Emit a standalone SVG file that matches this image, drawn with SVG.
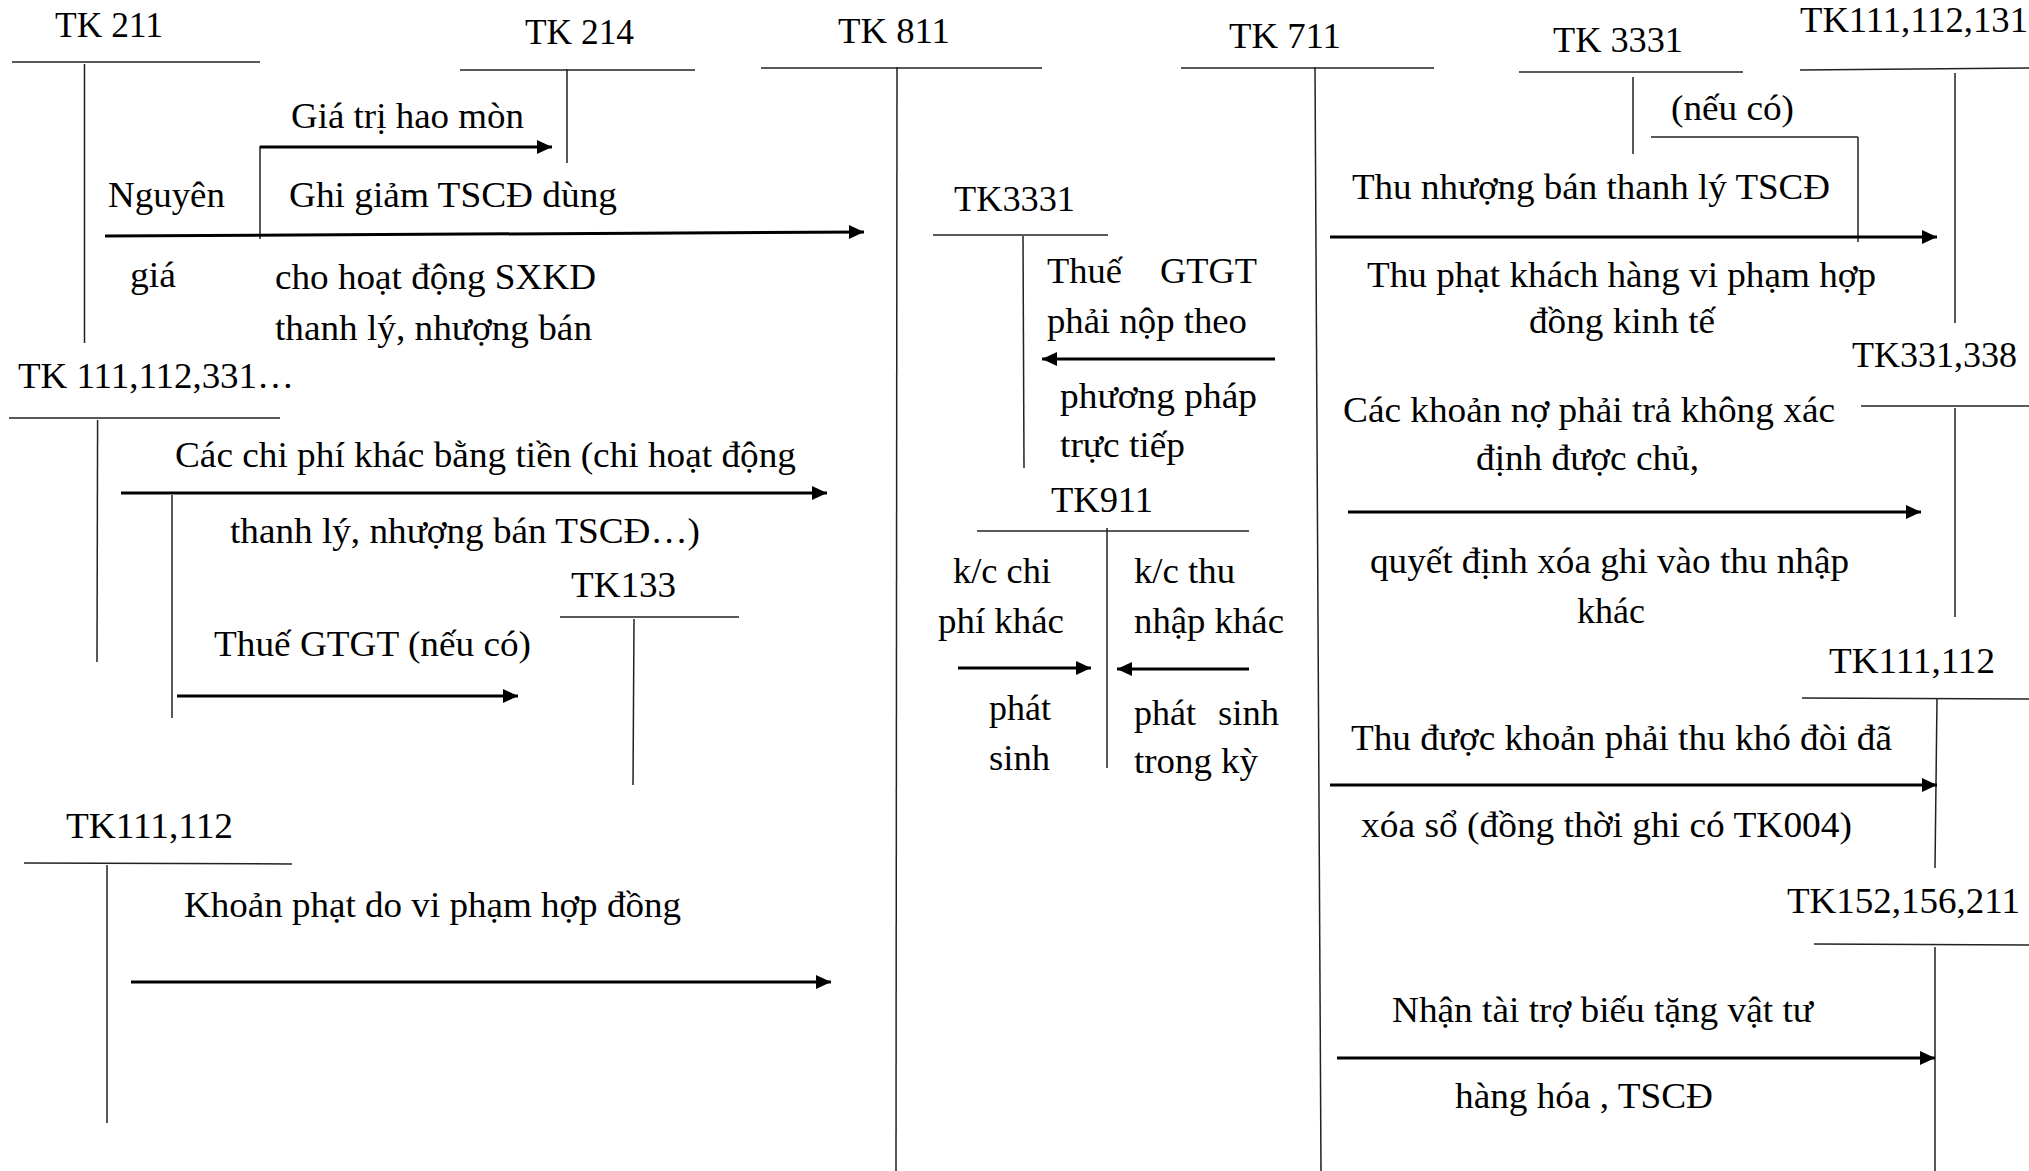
<svg xmlns="http://www.w3.org/2000/svg" width="2029" height="1171" viewBox="0 0 2029 1171">
  <defs>
    <marker id="head" markerUnits="userSpaceOnUse" markerWidth="16" markerHeight="15" refX="15" refY="7" orient="auto">
      <path d="M0,0 L15,7 L0,14 z" fill="#000"/>
    </marker>
    <style>
      text { font-family: "Liberation Serif", "Times New Roman", serif; font-size: 36px; fill: #000; }
      .t { stroke: #222; stroke-width: 1.5; fill: none; }
      .a { stroke: #000; stroke-width: 3; fill: none; marker-end: url(#head); }
    </style>
  </defs>
  <rect width="2029" height="1171" fill="#fff"/>

  <!-- T-accounts -->
  <g id="tk211">
    <line class="t" x1="12" y1="62" x2="260" y2="62"/>
    <line class="t" x1="84.5" y1="64" x2="84.5" y2="343"/>
    <text x="55" y="37" textLength="108" lengthAdjust="spacingAndGlyphs">TK 211</text>
  </g>
  <g id="tk214">
    <line class="t" x1="460" y1="70" x2="695" y2="70"/>
    <line class="t" x1="567" y1="69" x2="567" y2="163"/>
    <text x="525" y="44" textLength="109" lengthAdjust="spacingAndGlyphs">TK 214</text>
  </g>
  <g id="tk811">
    <line class="t" x1="761" y1="68" x2="1042" y2="68"/>
    <line class="t" x1="897" y1="67" x2="896" y2="1171"/>
    <text x="838" y="43" textLength="112" lengthAdjust="spacingAndGlyphs">TK 811</text>
  </g>
  <g id="tk711">
    <line class="t" x1="1181" y1="68" x2="1434" y2="68"/>
    <line class="t" x1="1315" y1="67" x2="1321" y2="1171"/>
    <text x="1229" y="48" textLength="112" lengthAdjust="spacingAndGlyphs">TK 711</text>
  </g>
  <g id="tk3331-out">
    <line class="t" x1="1519" y1="72" x2="1743" y2="72"/>
    <line class="t" x1="1633" y1="77" x2="1633" y2="154"/>
    <text x="1553" y="52" textLength="130" lengthAdjust="spacingAndGlyphs">TK 3331</text>
  </g>
  <g id="tk111-112-131">
    <line class="t" x1="1800" y1="70" x2="2029" y2="68"/>
    <line class="t" x1="1955" y1="73" x2="1955" y2="323"/>
    <text x="1800" y="32" textLength="228" lengthAdjust="spacingAndGlyphs">TK111,112,131</text>
  </g>
  <g id="tk111-112-331">
    <line class="t" x1="9" y1="418" x2="280" y2="418"/>
    <line class="t" x1="97.6" y1="420" x2="97" y2="662"/>
    <text x="18" y="388" textLength="276" lengthAdjust="spacingAndGlyphs">TK 111,112,331…</text>
  </g>
  <g id="tk3331-in">
    <line class="t" x1="933" y1="235" x2="1108" y2="235"/>
    <line class="t" x1="1023" y1="236" x2="1024" y2="468"/>
    <text x="954" y="211" textLength="121" lengthAdjust="spacingAndGlyphs">TK3331</text>
  </g>
  <g id="tk911">
    <line class="t" x1="977" y1="531" x2="1249" y2="531"/>
    <line class="t" x1="1107" y1="528" x2="1107" y2="768"/>
    <text x="1051" y="512" textLength="102" lengthAdjust="spacingAndGlyphs">TK911</text>
  </g>
  <g id="tk133">
    <line class="t" x1="560" y1="617" x2="739" y2="617"/>
    <line class="t" x1="634" y1="619" x2="633" y2="785"/>
    <text x="571" y="597" textLength="105" lengthAdjust="spacingAndGlyphs">TK133</text>
  </g>
  <g id="tk331-338">
    <line class="t" x1="1861" y1="406" x2="2029" y2="406"/>
    <line class="t" x1="1955" y1="408" x2="1955" y2="617"/>
    <text x="1852" y="367" textLength="165" lengthAdjust="spacingAndGlyphs">TK331,338</text>
  </g>
  <g id="tk111-112-right">
    <line class="t" x1="1802" y1="698" x2="2029" y2="699"/>
    <line class="t" x1="1937" y1="699" x2="1935" y2="868"/>
    <text x="1829" y="673" textLength="166" lengthAdjust="spacingAndGlyphs">TK111,112</text>
  </g>
  <g id="tk111-112-left">
    <line class="t" x1="24" y1="863" x2="292" y2="864"/>
    <line class="t" x1="107" y1="865" x2="107" y2="1123"/>
    <text x="66" y="838" textLength="167" lengthAdjust="spacingAndGlyphs">TK111,112</text>
  </g>
  <g id="tk152-156-211">
    <line class="t" x1="1814" y1="944" x2="2029" y2="945"/>
    <line class="t" x1="1935" y1="947" x2="1935" y2="1171"/>
    <text x="1787" y="913" textLength="233" lengthAdjust="spacingAndGlyphs">TK152,156,211</text>
  </g>

  <!-- connectors -->
  <g id="connectors">
    <line class="t" x1="260" y1="239" x2="260" y2="146"/>
    <line class="a" x1="260" y1="147" x2="552" y2="147"/>
    <line class="a" x1="105" y1="236" x2="864" y2="232"/>
    <line class="a" x1="1275" y1="359" x2="1042" y2="359"/>
    <line class="t" x1="1651" y1="137" x2="1858" y2="137"/>
    <line class="t" x1="1858" y1="137" x2="1858" y2="242"/>
    <line class="a" x1="1330" y1="237" x2="1937" y2="237"/>
    <line class="a" x1="121" y1="493" x2="827" y2="493"/>
    <line class="t" x1="172" y1="495" x2="172" y2="718"/>
    <line class="a" x1="177" y1="696" x2="518" y2="696"/>
    <line class="a" x1="958" y1="668" x2="1091" y2="668"/>
    <line class="a" x1="1249" y1="669" x2="1117" y2="669"/>
    <line class="a" x1="1348" y1="512" x2="1921" y2="512"/>
    <line class="a" x1="1330" y1="785" x2="1937" y2="785"/>
    <line class="a" x1="131" y1="982" x2="831" y2="982"/>
    <line class="a" x1="1337" y1="1058" x2="1935" y2="1058"/>
  </g>

  <!-- entry labels -->
  <g id="labels">
    <text x="291" y="128" textLength="233" lengthAdjust="spacingAndGlyphs">Giá trị hao mòn</text>
    <text x="108" y="207" textLength="117" lengthAdjust="spacingAndGlyphs">Nguyên</text>
    <text x="289" y="207" textLength="328" lengthAdjust="spacingAndGlyphs">Ghi giảm TSCĐ dùng</text>
    <text x="130" y="287" textLength="46" lengthAdjust="spacingAndGlyphs">giá</text>
    <text x="275" y="289" textLength="321" lengthAdjust="spacingAndGlyphs">cho hoạt động SXKD</text>
    <text x="275" y="340" textLength="317" lengthAdjust="spacingAndGlyphs">thanh lý, nhượng bán</text>

    <text x="1047" y="283" textLength="75" lengthAdjust="spacingAndGlyphs">Thuế</text>
    <text x="1160" y="283" textLength="97" lengthAdjust="spacingAndGlyphs">GTGT</text>
    <text x="1047" y="333" textLength="200" lengthAdjust="spacingAndGlyphs">phải nộp theo</text>
    <text x="1060" y="408" textLength="197" lengthAdjust="spacingAndGlyphs">phương pháp</text>
    <text x="1060" y="457" textLength="125" lengthAdjust="spacingAndGlyphs">trực tiếp</text>

    <text x="953" y="583" textLength="98" lengthAdjust="spacingAndGlyphs">k/c chi</text>
    <text x="938" y="633" textLength="126" lengthAdjust="spacingAndGlyphs">phí khác</text>
    <text x="989" y="720" textLength="62" lengthAdjust="spacingAndGlyphs">phát</text>
    <text x="989" y="770" textLength="61" lengthAdjust="spacingAndGlyphs">sinh</text>
    <text x="1134" y="583" textLength="101" lengthAdjust="spacingAndGlyphs">k/c thu</text>
    <text x="1134" y="633" textLength="150" lengthAdjust="spacingAndGlyphs">nhập khác</text>
    <text x="1134" y="725" textLength="62" lengthAdjust="spacingAndGlyphs">phát</text>
    <text x="1218" y="725" textLength="61" lengthAdjust="spacingAndGlyphs">sinh</text>
    <text x="1134" y="773" textLength="124" lengthAdjust="spacingAndGlyphs">trong kỳ</text>

    <text x="1671" y="120" textLength="123" lengthAdjust="spacingAndGlyphs">(nếu có)</text>
    <text x="1352" y="199" textLength="478" lengthAdjust="spacingAndGlyphs">Thu nhượng bán thanh lý TSCĐ</text>
    <text x="1367" y="287" textLength="509" lengthAdjust="spacingAndGlyphs">Thu phạt khách hàng vi phạm hợp</text>
    <text x="1529" y="333" textLength="186" lengthAdjust="spacingAndGlyphs">đồng kinh tế</text>
    <text x="1343" y="422" textLength="492" lengthAdjust="spacingAndGlyphs">Các khoản nợ phải trả không xác</text>
    <text x="1476" y="470" textLength="223" lengthAdjust="spacingAndGlyphs">định được chủ,</text>
    <text x="1370" y="573" textLength="479" lengthAdjust="spacingAndGlyphs">quyết định xóa ghi vào thu nhập</text>
    <text x="1577" y="623" textLength="68" lengthAdjust="spacingAndGlyphs">khác</text>
    <text x="1351" y="750" textLength="541" lengthAdjust="spacingAndGlyphs">Thu được khoản phải thu khó đòi đã</text>
    <text x="1361" y="837" textLength="491" lengthAdjust="spacingAndGlyphs">xóa sổ (đồng thời ghi có TK004)</text>
    <text x="1392" y="1022" textLength="421" lengthAdjust="spacingAndGlyphs">Nhận tài trợ biếu tặng vật tư</text>
    <text x="1455" y="1108" textLength="258" lengthAdjust="spacingAndGlyphs">hàng hóa , TSCĐ</text>

    <text x="175" y="467" textLength="621" lengthAdjust="spacingAndGlyphs">Các chi phí khác bằng tiền (chi hoạt động</text>
    <text x="230" y="543" textLength="470" lengthAdjust="spacingAndGlyphs">thanh lý, nhượng bán TSCĐ…)</text>
    <text x="214" y="656" textLength="317" lengthAdjust="spacingAndGlyphs">Thuế GTGT (nếu có)</text>
    <text x="184" y="917" textLength="497" lengthAdjust="spacingAndGlyphs">Khoản phạt do vi phạm hợp đồng</text>
  </g>
</svg>
